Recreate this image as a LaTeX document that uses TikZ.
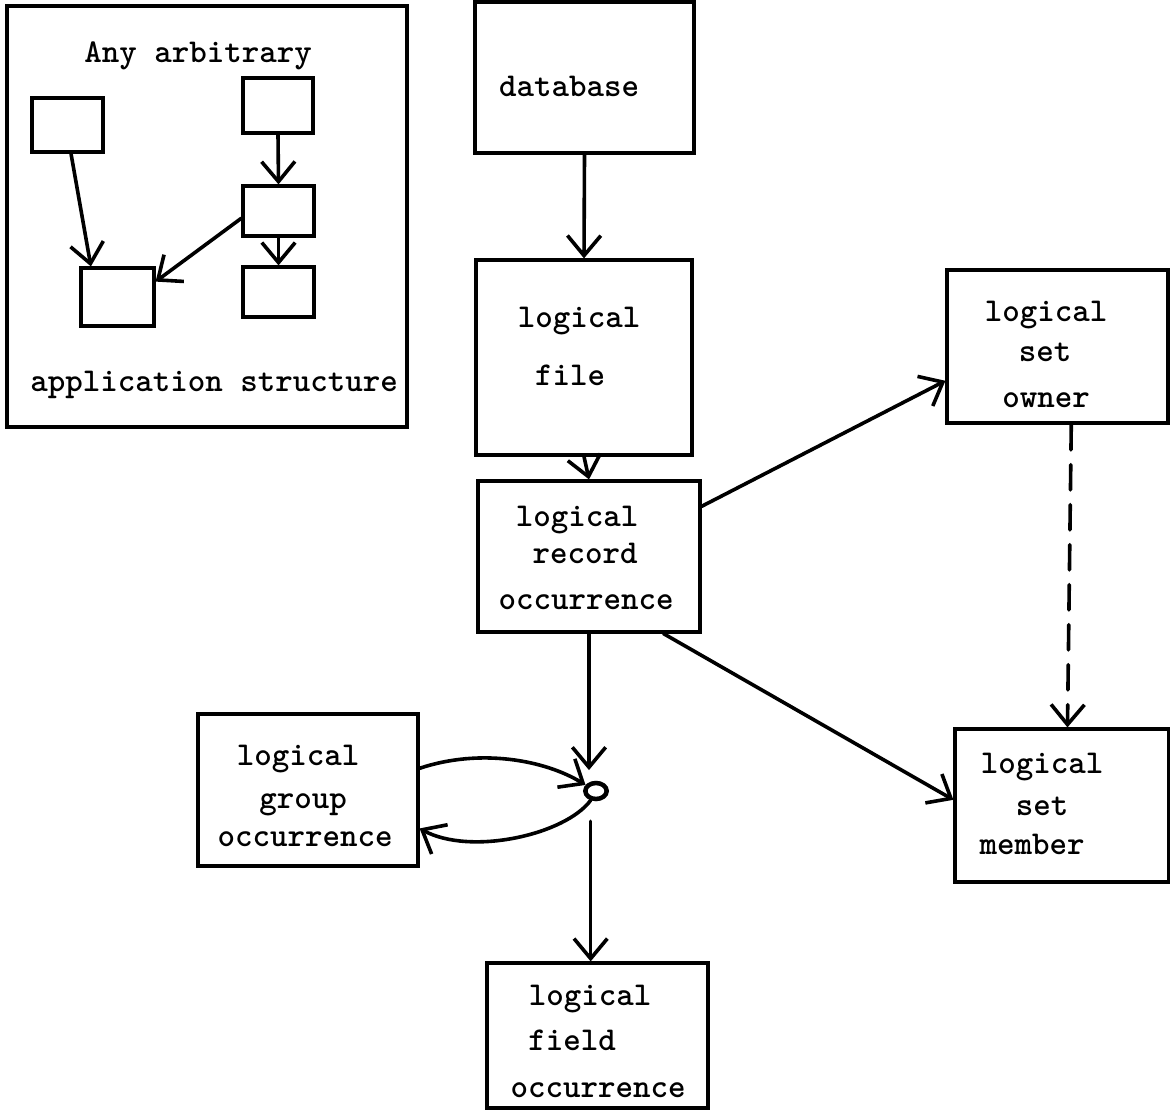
\documentclass[tikz,border=0pt]{standalone}
\usetikzlibrary{arrows.meta,fit,shapes.geometric}
\begin{document}
\begin{tikzpicture}[x=0.75pt,y=-0.75pt,
  box/.style={draw, line width=2.4pt, inner sep=0pt},
  txt/.style={font=\ttfamily\bfseries\fontsize{25}{30}\selectfont, inner sep=0pt, anchor=base},
  conn/.style={line width=2.7pt, line cap=round,
    -{Straight Barb[length=15pt,width=25pt,line width=2.7pt]}},
]
\useasboundingbox (0,0) rectangle (1170,1112);

% ---------- inset: an arbitrary application structure ----------
\node[box, fit={(7,6) (407,427)}] (frame) {};
\node[txt] (any) at (198,63) {Any arbitrary};
\node[txt] (app) at (214,392) {application structure};
\node[box, fit={(32,98) (103,152)}] (a) {};
\node[box, fit={(243,78) (313,133)}] (b) {};
\node[box, fit={(243,186) (314,236)}] (c) {};
\node[box, fit={(81,268) (154,326)}] (d) {};
\node[box, fit={(243,267) (314,317)}] (e) {};
\draw[conn] (a.-83) -- (d.131);
\draw[conn] (b.south) -- (c.north);
\draw[conn] (c.south) -- (e.north);
\draw[conn] (c.191) -- (d.22);

% ---------- main hierarchy ----------
\node[box, fit={(475,2) (694,153)}] (db) {};
\node[txt] (dbt) at (569,97) {database};

\node[box, fit={(476,260) (692,455)}] (lf) {};
\node[txt] (lf1) at (579,328) {logical};
\node[txt] (lf2) at (570,385) {file};

\node[box, fit={(478,481) (700,632)}] (rec) {};
\node[txt] (rec1) at (577,526) {logical};
\node[txt] (rec2) at (585,563) {record};
\node[txt] (rec3) at (586,609) {occurrence};

\node[box, fit={(947,270) (1168,423)}] (own) {};
\node[txt] (own1) at (1046,322) {logical};
\node[txt] (own2) at (1045,362) {set};
\node[txt] (own3) at (1046,407) {owner};

\node[box, fit={(955,729) (1169,882)}] (mem) {};
\node[txt] (mem1) at (1042,773) {logical};
\node[txt] (mem2) at (1042,815) {set};
\node[txt] (mem3) at (1032,854) {member};

\node[box, fit={(198,714) (418,866)}] (grp) {};
\node[txt] (grp1) at (298,765) {logical};
\node[txt] (grp2) at (303,808) {group};
\node[txt] (grp3) at (305,846) {occurrence};

\node[box, fit={(487,963) (708,1108)}] (fld) {};
\node[txt] (fld1) at (590,1005) {logical};
\node[txt] (fld2) at (572,1050) {field};
\node[txt] (fld3) at (598,1097) {occurrence};

% junction
\node[draw, ellipse, line width=3.4pt, minimum width=16pt, minimum height=12pt,
      inner sep=0pt] (o) at (596,791) {};

% ---------- connectors ----------
\draw[conn] (db.south) -- (lf.north);
\draw[conn] (lf.south) -- (rec.north);
\draw[conn] (rec.24) -- (own.197);
\draw[conn] (rec.-46) -- (mem.177);
\draw[conn, dash pattern=on 19pt off 11pt] (own.-80) -- (mem.86);
\draw[conn, shorten >=8pt] (rec.south) -- (rec.south |- o.north);
\draw[conn] ([xshift=-4pt,yshift=-15pt]o.south) -- ([xshift=-4pt]o.south |- fld.north);
\draw[conn] (grp.11) .. controls (480,748) and (545,760) .. (o.150);
\draw[conn] (o.-120) .. controls (565,835) and (470,856) .. (grp.-19);
\end{tikzpicture}
\end{document}
